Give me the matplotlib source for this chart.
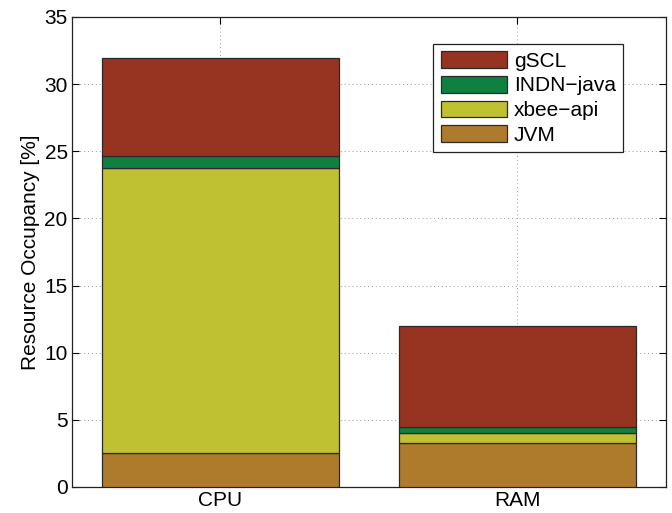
import matplotlib
matplotlib.use("Agg")
import matplotlib.pyplot as plt
import numpy as np

plt.rcParams['font.family'] = ['Liberation Sans', 'DejaVu Sans']

categories = ['CPU', 'RAM']
series_names = ['JVM', 'xbee\u2212api', 'INDN\u2212java', 'gSCL']
jvm = [2.5, 3.3]
xbee_api = [21.25, 0.7]
indn_java = [0.9, 0.5]
gscl = [7.3, 7.45]
colors = ['#ae7b2d', '#bfc032', '#0f8040', '#973421']

fig = plt.figure(figsize=(6.72, 5.13), dpi=100)
ax = fig.add_axes([0.107, 0.0507, 0.884, 0.9163])

x = np.arange(1, len(categories) + 1)
bottom = np.zeros(len(categories))
handles = []
for name, vals, col in zip(series_names, [jvm, xbee_api, indn_java, gscl], colors):
    h = ax.bar(x, vals, width=0.8, bottom=bottom, color=col, edgecolor='#2a2a2a',
               linewidth=0.9, label=name, zorder=3)
    handles.append(h)
    bottom += np.array(vals)

ax.set_xlim(0.5, 2.5)
ax.set_ylim(0, 35)
ax.set_yticks(np.arange(0, 36, 5))
ax.set_xticks(x)
ax.set_xticklabels(categories)
ax.set_ylabel('Resource Occupancy [%]', fontsize=15, labelpad=3)
ax.tick_params(axis='both', direction='in', labelsize=15, top=True, right=True,
               length=5, width=0.8, pad=3)
ax.grid(True, linestyle=(0, (1, 3)), color='#999999', linewidth=0.7, zorder=0)
for s in ax.spines.values():
    s.set_linewidth(0.9)
    s.set_color('#222222')

leg = ax.legend(handles[::-1], series_names[::-1], loc='upper right',
                bbox_to_anchor=(0.9276, 0.9426), fontsize=15, fancybox=False,
                edgecolor='#222222', framealpha=1, handlelength=3.2,
                handleheight=0.85, labelspacing=0.25, borderpad=0.35,
                handletextpad=0.3, borderaxespad=0)
leg.get_frame().set_linewidth(0.9)

fig.savefig('out.png', dpi=100)
